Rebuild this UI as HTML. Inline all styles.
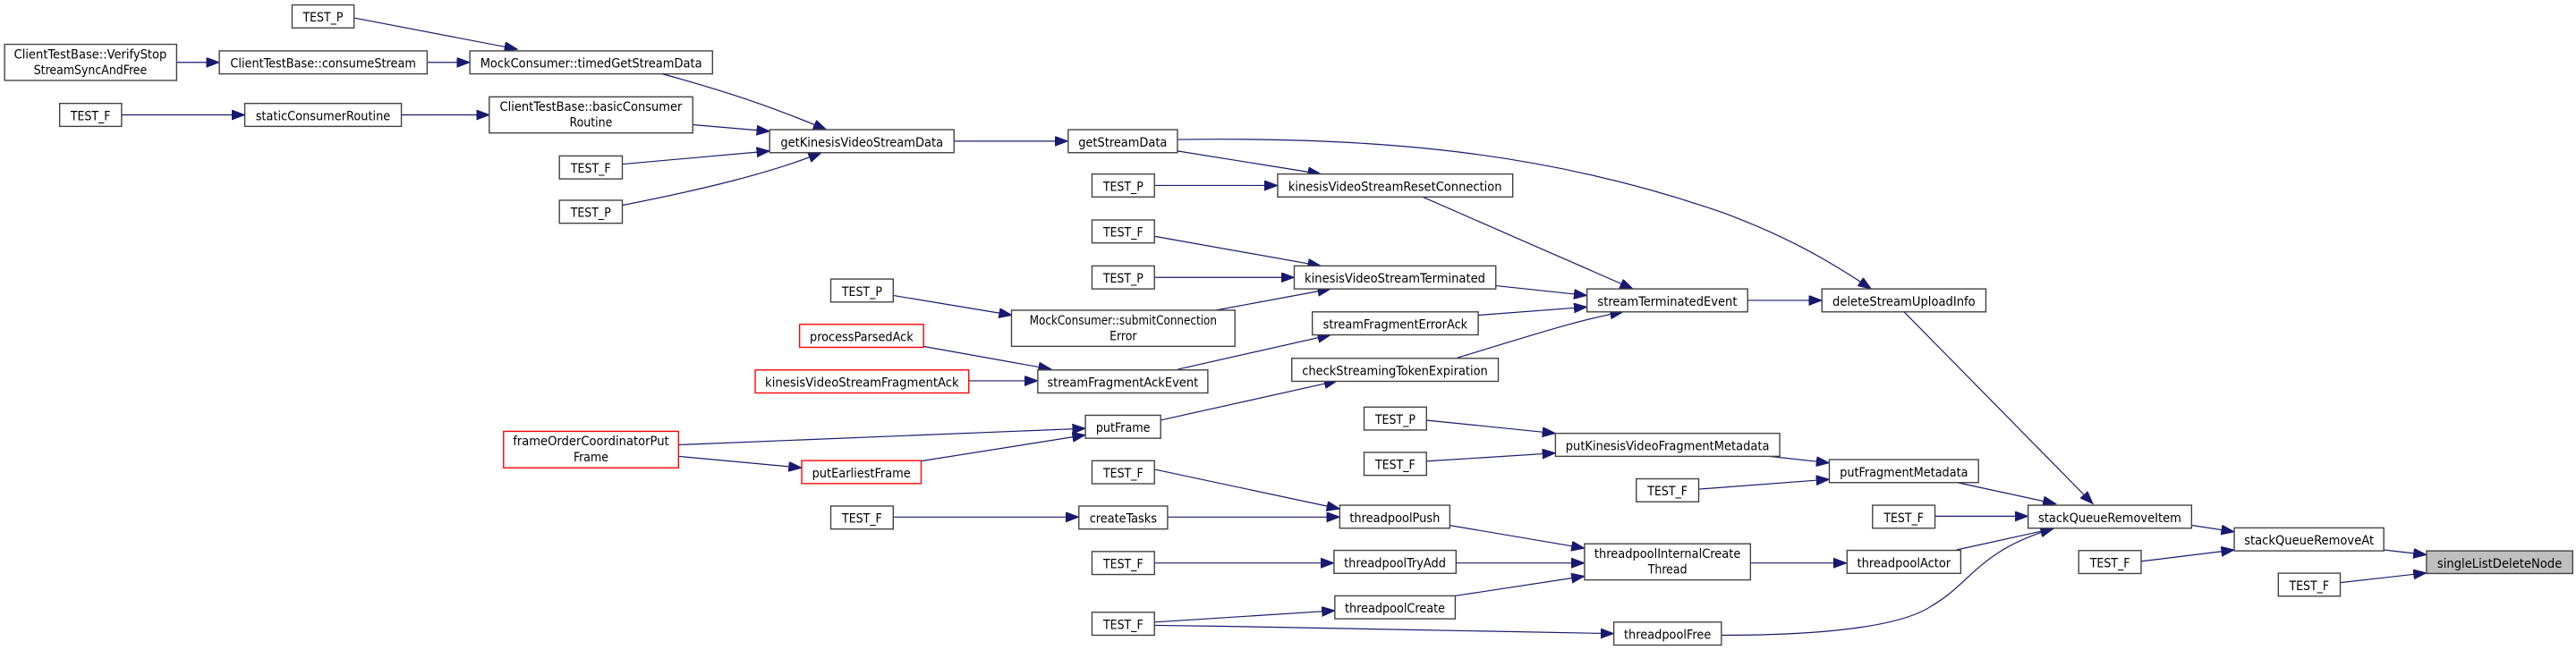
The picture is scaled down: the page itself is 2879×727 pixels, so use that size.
<!DOCTYPE html>
<html><head><meta charset="utf-8"><style>
html,body{margin:0;padding:0;background:#fff}
svg{display:block}
rect{fill:#fff;stroke:#404040;stroke-width:0.75}
rect.r{stroke:#ff0000}
rect.g{fill:#bfbfbf}
text{font-family:"DejaVu Sans Condensed","DejaVu Sans","Liberation Sans",sans-serif;font-size:7.6px;fill:#000;text-anchor:middle}
path.e{fill:none;stroke:#191970;stroke-width:0.65;marker-end:url(#a)}
</style></head><body>
<svg width="2879" height="727" viewBox="0 0 1568 396" preserveAspectRatio="none" xmlns="http://www.w3.org/2000/svg">
<defs><marker id="a" markerUnits="userSpaceOnUse" markerWidth="9" markerHeight="7" refX="8" refY="3" orient="auto"><path d="M0,0 L8,3 L0,6 z" fill="#191970" stroke="#191970" stroke-width="0.5"/></marker></defs>

<!-- edges -->
<path class="e" d="M216,11 L315,30"/>
<path class="e" d="M107.5,38 L133.5,38"/>
<path class="e" d="M260,38 L286,38"/>
<path class="e" d="M74,70 L149,70"/>
<path class="e" d="M244,70 L298,70"/>
<path class="e" d="M403,45 C440,55 470,65 503,79"/>
<path class="e" d="M421.7,76 L468.5,80"/>
<path class="e" d="M379,100 L468.5,92"/>
<path class="e" d="M379,125 C430,115 470,105 500,93"/>
<path class="e" d="M580.7,86 L650,86"/>
<path class="e" d="M716.7,85 C850,83 950,95 1050,130 C1090,145 1115,160 1139,176"/>
<path class="e" d="M716.7,92 L804,106"/>
<path class="e" d="M703,113 L777.7,113"/>
<path class="e" d="M866,120 L994,176"/>
<path class="e" d="M703,144 L804,162"/>
<path class="e" d="M703,169 L787.8,169"/>
<path class="e" d="M740,189 L810,176"/>
<path class="e" d="M543.7,180 L616,192"/>
<path class="e" d="M910,174 L966,180"/>
<path class="e" d="M900,192 L966,187"/>
<path class="e" d="M887,218 C930,205 960,195 988,190"/>
<path class="e" d="M1064,183 L1109,183"/>
<path class="e" d="M1159,190 L1274,307"/>
<path class="e" d="M562,211 L640,225"/>
<path class="e" d="M589.7,232 L631.7,232"/>
<path class="e" d="M717,225 L810,204"/>
<path class="e" d="M706.5,256 L814,232"/>
<path class="e" d="M413,271 L660.7,261"/>
<path class="e" d="M413,278 L488,285"/>
<path class="e" d="M560,281 L660.7,265"/>
<path class="e" d="M868,256 L946.8,264"/>
<path class="e" d="M868,281 L946.8,276"/>
<path class="e" d="M1077,278 L1113.5,282"/>
<path class="e" d="M1034,298 L1113.5,292"/>
<path class="e" d="M1191.5,294 L1251.5,307"/>
<path class="e" d="M1178,314.5 L1234.5,314.5"/>
<path class="e" d="M1191,335 L1250,322"/>
<path class="e" d="M1048,387 C1120,387 1160,380 1176,369 C1200,355 1205,335 1250,322"/>
<path class="e" d="M1334,320 L1360,324"/>
<path class="e" d="M1303,342 L1360,335"/>
<path class="e" d="M1451,335 L1477,338"/>
<path class="e" d="M1424,355 L1477,349"/>
<path class="e" d="M703,286 L815.5,310"/>
<path class="e" d="M544,315 L656.7,315"/>
<path class="e" d="M710.7,315 L815.5,315"/>
<path class="e" d="M882,320 L964.5,334"/>
<path class="e" d="M703,343 L812,343"/>
<path class="e" d="M886,343 L964.5,343"/>
<path class="e" d="M885.8,363 L964.5,351"/>
<path class="e" d="M1065.5,343 L1124,343"/>
<path class="e" d="M703,379 L812.5,372"/>
<path class="e" d="M703,381 C800,382 900,385 982.3,386"/>

<!-- nodes -->
<rect x="177.8" y="3" width="37.7" height="14"/><text x="196.6" y="13.2">TEST_P</text>
<rect x="2.8" y="27" width="104.7" height="22"/><text x="55" y="35.6" textLength="93" lengthAdjust="spacingAndGlyphs">ClientTestBase::VerifyStop</text><text x="55" y="45.2">StreamSyncAndFree</text>
<rect x="133.5" y="31" width="126.5" height="14"/><text x="196.7" y="41.2" textLength="113" lengthAdjust="spacingAndGlyphs">ClientTestBase::consumeStream</text>
<rect x="286" y="31" width="147.7" height="14"/><text x="359.8" y="41.2" textLength="135" lengthAdjust="spacingAndGlyphs">MockConsumer::timedGetStreamData</text>
<rect x="36.3" y="63" width="37.7" height="14"/><text x="55.1" y="73.2">TEST_F</text>
<rect x="149" y="63" width="95.3" height="14"/><text x="196.6" y="73.2" textLength="82" lengthAdjust="spacingAndGlyphs">staticConsumerRoutine</text>
<rect x="297.8" y="59" width="123.9" height="22"/><text x="359.7" y="67.6" textLength="111" lengthAdjust="spacingAndGlyphs">ClientTestBase::basicConsumer</text><text x="359.7" y="77.2">Routine</text>
<rect x="340.5" y="95" width="38.3" height="14"/><text x="359.6" y="105.2">TEST_F</text>
<rect x="340.5" y="122" width="38.3" height="14"/><text x="359.6" y="132.2">TEST_P</text>
<rect x="468.5" y="79" width="112.2" height="14"/><text x="524.6" y="89.2" textLength="99" lengthAdjust="spacingAndGlyphs">getKinesisVideoStreamData</text>
<rect x="650.2" y="79" width="66.5" height="14"/><text x="683.4" y="89.2" textLength="54" lengthAdjust="spacingAndGlyphs">getStreamData</text>
<rect x="664.7" y="106" width="38" height="14"/><text x="683.7" y="116.2">TEST_P</text>
<rect x="777.7" y="106" width="143.1" height="14"/><text x="849.2" y="116.2" textLength="130" lengthAdjust="spacingAndGlyphs">kinesisVideoStreamResetConnection</text>
<rect x="664.7" y="134" width="38" height="14"/><text x="683.7" y="144.2">TEST_F</text>
<rect x="664.7" y="162" width="38" height="14"/><text x="683.7" y="172.2">TEST_P</text>
<rect x="787.8" y="162" width="122.7" height="14"/><text x="849.1" y="172.2" textLength="110" lengthAdjust="spacingAndGlyphs">kinesisVideoStreamTerminated</text>
<rect x="505.7" y="170" width="38" height="14"/><text x="524.7" y="180.2">TEST_P</text>
<rect x="615.7" y="189" width="136" height="22"/><text x="683.7" y="197.6" textLength="114" lengthAdjust="spacingAndGlyphs">MockConsumer::submitConnection</text><text x="683.7" y="207.2">Error</text>
<rect x="966" y="176" width="97.8" height="14"/><text x="1014.9" y="186.2" textLength="85" lengthAdjust="spacingAndGlyphs">streamTerminatedEvent</text>
<rect x="1109" y="176" width="99.8" height="14"/><text x="1158.9" y="186.2" textLength="87" lengthAdjust="spacingAndGlyphs">deleteStreamUploadInfo</text>
<rect x="798.8" y="190" width="101" height="14"/><text x="849.3" y="200.2" textLength="88" lengthAdjust="spacingAndGlyphs">streamFragmentErrorAck</text>
<rect class="r" x="486.7" y="197.6" width="75.5" height="14"/><text x="524.4" y="207.8" textLength="63" lengthAdjust="spacingAndGlyphs">processParsedAck</text>
<rect class="r" x="459.7" y="225.4" width="130" height="14"/><text x="524.7" y="235.6" textLength="118" lengthAdjust="spacingAndGlyphs">kinesisVideoStreamFragmentAck</text>
<rect x="631.7" y="225.4" width="103.5" height="14"/><text x="683.4" y="235.6" textLength="92" lengthAdjust="spacingAndGlyphs">streamFragmentAckEvent</text>
<rect x="786.3" y="218.3" width="125.7" height="14"/><text x="849.1" y="228.5" textLength="113" lengthAdjust="spacingAndGlyphs">checkStreamingTokenExpiration</text>
<rect x="660.7" y="253" width="45.8" height="14"/><text x="683.6" y="263.2" textLength="33" lengthAdjust="spacingAndGlyphs">putFrame</text>
<rect class="r" x="306.5" y="262.8" width="106.5" height="22.2"/><text x="359.7" y="271.4" textLength="95" lengthAdjust="spacingAndGlyphs">frameOrderCoordinatorPut</text><text x="359.7" y="281">Frame</text>
<rect class="r" x="488" y="280.6" width="72.7" height="14"/><text x="524.3" y="290.8" textLength="60" lengthAdjust="spacingAndGlyphs">putEarliestFrame</text>
<rect x="830.3" y="248" width="38" height="14"/><text x="849.3" y="258.2">TEST_P</text>
<rect x="830.3" y="275.6" width="38" height="14"/><text x="849.3" y="285.8">TEST_F</text>
<rect x="946.8" y="264" width="136.5" height="14"/><text x="1015" y="274.2" textLength="124" lengthAdjust="spacingAndGlyphs">putKinesisVideoFragmentMetadata</text>
<rect x="1113.5" y="280" width="90.8" height="14"/><text x="1158.9" y="290.2" textLength="78" lengthAdjust="spacingAndGlyphs">putFragmentMetadata</text>
<rect x="996" y="291.7" width="38" height="14"/><text x="1015" y="301.9">TEST_F</text>
<rect x="664.7" y="280.7" width="38" height="14"/><text x="683.7" y="290.9">TEST_F</text>
<rect x="505.7" y="308.3" width="38" height="14"/><text x="524.7" y="318.5">TEST_F</text>
<rect x="656.7" y="308.3" width="54" height="14"/><text x="683.7" y="318.5" textLength="41" lengthAdjust="spacingAndGlyphs">createTasks</text>
<rect x="815.5" y="307.8" width="67" height="14"/><text x="849" y="318" textLength="55" lengthAdjust="spacingAndGlyphs">threadpoolPush</text>
<rect x="1139.8" y="307.8" width="38" height="14"/><text x="1158.8" y="318">TEST_F</text>
<rect x="1234.5" y="307.8" width="99.5" height="14"/><text x="1284.2" y="318" textLength="87" lengthAdjust="spacingAndGlyphs">stackQueueRemoveItem</text>
<rect x="1360" y="321.6" width="91" height="14"/><text x="1405.5" y="331.8" textLength="79" lengthAdjust="spacingAndGlyphs">stackQueueRemoveAt</text>
<rect x="964.5" y="331.3" width="101" height="22"/><text x="1015" y="339.9" textLength="89" lengthAdjust="spacingAndGlyphs">threadpoolInternalCreate</text><text x="1015" y="349.5">Thread</text>
<rect x="664.7" y="336" width="38" height="14"/><text x="683.7" y="346.2">TEST_F</text>
<rect x="812" y="335.3" width="74.3" height="14"/><text x="849.1" y="345.5" textLength="62" lengthAdjust="spacingAndGlyphs">threadpoolTryAdd</text>
<rect x="1124.3" y="335.3" width="69.2" height="14"/><text x="1158.9" y="345.5" textLength="57" lengthAdjust="spacingAndGlyphs">threadpoolActor</text>
<rect x="1265.3" y="335.4" width="38" height="14"/><text x="1284.3" y="345.6">TEST_F</text>
<rect class="g" x="1477" y="335.6" width="89" height="13.8"/><text x="1521.5" y="345.8" textLength="76" lengthAdjust="spacingAndGlyphs">singleListDeleteNode</text>
<rect x="1386.8" y="349.2" width="37.7" height="14"/><text x="1405.6" y="359.4">TEST_F</text>
<rect x="812.5" y="363" width="73.3" height="14"/><text x="849.1" y="373.2" textLength="61" lengthAdjust="spacingAndGlyphs">threadpoolCreate</text>
<rect x="664.7" y="373" width="38" height="14"/><text x="683.7" y="383.2">TEST_F</text>
<rect x="982.3" y="379" width="65.5" height="14"/><text x="1015" y="389.2" textLength="53" lengthAdjust="spacingAndGlyphs">threadpoolFree</text>
</svg>
</body></html>
